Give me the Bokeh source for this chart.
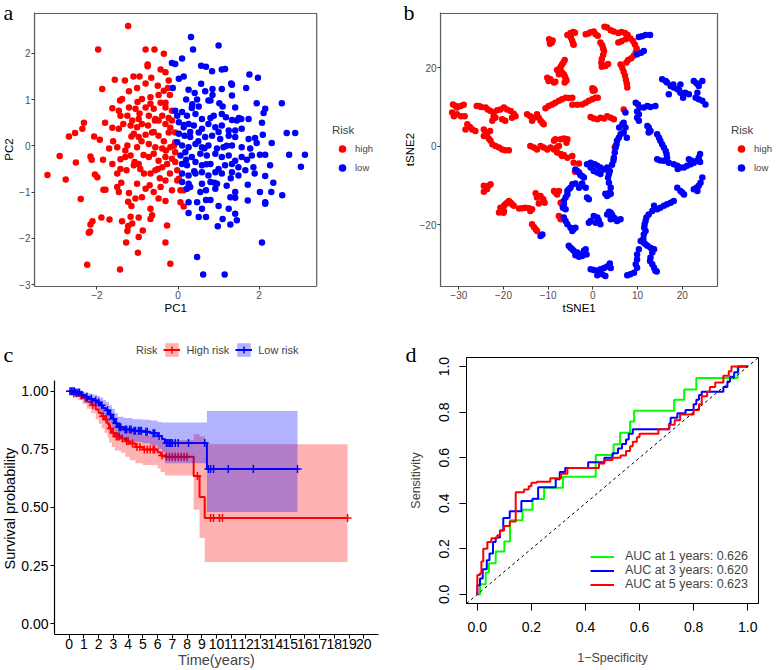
import numpy as np
from bokeh.plotting import figure
from bokeh.models import (Range1d, FixedTicker, Legend, LegendItem, Slope, Title,
                          NumeralTickFormatter, BoxAnnotation)
from bokeh.layouts import row, column
from bokeh.embed import file_html
from bokeh.resources import INLINE

FONT = "Liberation Sans"
SERIF = "Liberation Serif"
RED = "#FF0000"
BLUE = "#0000FF"
GREEN = "#00FF00"
GRAY = "#5E5E5E"

# ---------------- data: PCA ----------------
pca_high = [(-1.23,2.59),(-1.97,2.08),(-0.80,2.08),(-0.58,2.08),(-0.35,1.99),(-0.75,1.76),(-0.75,1.72),(-1.56,1.43),(-1.31,1.41),(-1.87,1.23),(-0.95,1.50),(-0.66,1.47),(-0.43,1.65),(-0.31,1.59),(-0.23,1.41),(-0.25,1.25),(-0.80,1.35),(-1.21,1.18),(-1.01,1.25),(-0.35,1.19),(-1.38,1.01),(-1.43,0.98),(-0.89,1.01),(-0.68,1.05),(-0.48,1.10),(-0.43,0.93),(-0.31,0.93),(-1.62,0.81),(-1.46,0.76),(-1.21,0.83),(-1.05,0.80),(-0.80,0.83),(-0.68,0.91),(-0.31,0.83),(-0.15,0.76),(-1.42,0.65),(-1.25,0.65),(-1.13,0.55),(-0.97,0.58),(-0.72,0.65),(-0.56,0.58),(-0.39,0.65),(-0.23,0.60),(-2.32,0.50),(-1.62,0.39),(-1.46,0.37),(-1.35,0.47),(-1.17,0.44),(-1.01,0.40),(-0.89,0.47),(-0.74,0.44),(-0.57,0.55),(-0.48,0.55),(-0.31,0.47),(-0.19,0.39),(-2.36,0.37),(-2.54,0.28),(-2.69,0.20),(-2.07,0.20),(-1.93,0.13),(-1.09,0.26),(-0.97,0.19),(-0.80,0.24),(-0.64,0.29),(-0.48,0.22),(-0.23,0.29),(-0.07,0.29),(-0.07,0.08),(-1.50,-0.03),(-1.25,0.01),(-1.01,-0.03),(-0.72,0.04),(-0.56,-0.03),(-0.39,-0.06),(-0.19,-0.03),(-0.07,-0.14),(-2.92,-0.22),(-2.16,-0.23),(-2.13,-0.30),(-2.52,-0.36),(-1.70,-0.06),(-1.62,-0.39),(-1.42,-0.29),(-1.30,-0.24),(-1.17,-0.21),(-1.07,-0.35),(-0.97,-0.39),(-0.72,-0.24),(-0.60,-0.17),(-0.48,-0.32),(-0.31,-0.24),(-0.15,-0.28),(-0.07,-0.35),(-3.22,-0.63),(-2.77,-0.73),(-2.05,-0.62),(-1.99,-0.68),(-1.50,-0.60),(-1.42,-0.50),(-1.27,-0.53),(-1.09,-0.42),(-0.93,-0.50),(-0.84,-0.60),(-0.68,-0.60),(-0.56,-0.53),(-0.39,-0.46),(-0.27,-0.39),(-0.02,-0.53),(-0.02,-0.75),(0.02,-0.71),(-1.84,-0.95),(-1.79,-0.95),(-1.50,-0.89),(-1.46,-1.00),(-1.21,-1.02),(-1.01,-0.82),(-0.80,-0.93),(-0.60,-1.00),(-0.43,-0.89),(-0.31,-0.75),(-0.15,-0.96),(0.06,-0.96),(0.14,-0.96),(-2.40,-1.15),(-1.23,-1.21),(-1.05,-1.14),(-0.89,-1.11),(-0.68,-1.36),(-0.48,-1.14),(-0.31,-1.19),(0.06,-1.22),(0.14,-1.31),(-1.89,-1.55),(-1.69,-1.59),(-1.17,-1.53),(-0.97,-1.55),(-0.68,-1.58),(-2.11,-1.63),(-2.16,-1.70),(-1.38,-1.63),(-1.23,-1.73),(-1.13,-1.68),(-0.64,-1.50),(-0.27,-1.72),(-2.17,-1.85),(-2.20,-1.88),(-1.25,-1.84),(-0.87,-1.83),(-0.97,-1.97),(-1.28,-2.09),(-0.31,-2.09),(-0.99,-2.31),(-2.24,-2.57),(-1.43,-2.67),(-0.19,-2.55),
            (-0.60,0.30),(-0.90,0.10),(-0.35,0.10),(-1.15,0.20),(-0.50,-0.50),(-0.85,-0.20),(-1.30,-0.10),(-0.20,-0.60),(-0.60,0.80),(-1.00,0.95),(-0.15,0.55),(-1.60,0.10),(-1.85,-0.30),(-1.40,-0.80),(-0.45,-0.70),(-0.10,0.00),(-0.70,-0.85),(-1.15,-1.30),(-0.50,1.30),(-1.10,1.50),(-0.20,1.10),(-1.80,0.50),(-0.30,-0.10),(-0.95,0.70)]
pca_low = [(0.32,2.35),(0.37,2.08),(1.00,2.17),(0.10,1.89),(-0.15,1.79),(-0.07,1.77),(0.57,1.73),(0.69,1.71),(0.84,1.61),(1.08,1.65),(1.16,1.66),(1.76,1.54),(1.97,1.47),(0.02,1.45),(0.14,1.50),(0.57,1.34),(0.67,1.18),(0.85,1.23),(1.08,1.23),(1.31,1.35),(1.33,1.32),(1.68,1.25),(-0.13,1.25),(0.26,1.21),(0.41,1.14),(0.47,1.00),(0.75,0.98),(0.80,0.98),(0.51,0.85),(0.34,0.82),(1.33,1.09),(1.02,0.92),(1.41,0.83),(1.94,0.92),(2.56,0.92),(2.15,0.80),(2.11,0.71),(-0.07,0.76),(0.10,0.73),(-0.02,0.65),(0.22,0.65),(0.43,0.69),(0.59,0.58),(0.88,0.65),(1.08,0.69),(1.18,0.62),(1.33,0.56),(1.45,0.55),(1.56,0.58),(1.74,0.58),(0.02,0.51),(0.14,0.40),(0.26,0.47),(0.39,0.44),(0.59,0.37),(0.75,0.47),(0.92,0.40),(1.08,0.44),(1.25,0.33),(1.41,0.33),(1.57,0.37),(2.07,0.50),(2.68,0.28),(2.89,0.28),(0.02,0.26),(0.16,0.22),(0.30,0.19),(0.51,0.29),(0.67,0.19),(0.84,0.22),(1.04,0.15),(1.25,0.22),(1.41,0.19),(1.74,0.15),(1.90,0.17),(2.09,0.24),(2.31,0.06),(-0.02,0.08),(0.10,0.01),(0.26,-0.03),(0.43,0.04),(0.59,-0.03),(0.75,0.01),(0.96,-0.06),(1.12,-0.03),(1.33,0.01),(1.57,-0.03),(1.78,-0.06),(1.94,0.06),(0.06,-0.21),(0.18,-0.14),(0.34,-0.24),(0.55,-0.17),(0.71,-0.21),(0.92,-0.17),(1.08,-0.24),(1.25,-0.21),(1.41,-0.32),(1.57,-0.24),(1.82,-0.21),(2.02,-0.19),(2.15,-0.19),(2.74,-0.19),(3.13,-0.19),(0.10,-0.39),(0.22,-0.42),(0.43,-0.35),(0.59,-0.42),(0.80,-0.39),(1.00,-0.50),(1.16,-0.42),(1.33,-0.39),(1.49,-0.46),(1.66,-0.53),(1.86,-0.46),(2.27,-0.42),(3.03,-0.45),(0.10,-0.60),(0.26,-0.64),(0.43,-0.60),(0.59,-0.57),(0.75,-0.64),(0.92,-0.57),(1.08,-0.60),(1.33,-0.57),(1.49,-0.64),(1.89,-0.60),(2.15,-0.65),(0.10,-0.78),(0.26,-0.82),(0.59,-0.82),(0.80,-0.78),(0.96,-0.82),(1.20,-0.86),(1.72,-0.84),(2.35,-0.80),(0.22,-0.93),(0.30,-0.89),(0.69,-0.96),(0.92,-0.93),(1.41,-1.00),(2.02,-1.00),(2.30,-1.00),(2.57,-1.07),(0.26,-1.22),(0.47,-1.22),(0.69,-1.17),(0.80,-1.17),(1.29,-1.11),(1.41,-1.12),(1.72,-1.18),(2.15,-1.22),(0.26,-1.45),(0.59,-1.36),(1.25,-1.36),(1.41,-1.47),(2.15,-1.25),(0.51,-1.54),(0.69,-1.54),(1.10,-1.58),(1.45,-1.61),(1.29,-1.70),(0.98,-1.74),(2.07,-2.09),(0.47,-2.40),(0.62,-2.78),(1.15,-2.78),
           (0.30,0.30),(0.50,0.10),(0.80,0.60),(1.00,0.30),(0.70,-0.40),(0.40,-0.55),(1.20,0.00),(0.20,-0.30),(0.90,-0.80),(1.50,0.60),(0.35,0.90),(0.65,-0.05),(1.30,-0.70),(0.15,0.45),(1.10,0.85),(0.55,-1.00),(0.85,1.10),(0.20,1.00),(1.70,-0.30),(1.00,-1.30)]

# ---------------- data: tSNE ----------------
tsne_high = [(-9.8,27.3),(-9.5,26.9),(-9.2,26.5),(-9.6,26.2),(-9.0,27.0),
             (-5.7,28.4),(-5.0,28.9),(-4.4,29.2),(-4.0,29.0),(-4.9,27.7),(-4.6,26.9),(-4.4,26.2),(-4.3,25.9),
             (-1.6,28.6),(-1.0,28.8),(-0.5,29.1),(0.2,29.3),(0.6,28.6),(1.1,28.2),
             (2.6,30.5),(3.2,30.3),(4.0,29.6),(4.7,29.3),(5.7,28.9),(6.4,29.2),(7.2,28.9),(7.8,28.4),
             (1.7,26.5),(2.1,25.8),(2.3,25.0),(2.5,24.3),(2.3,23.3),(2.0,22.3),(1.9,21.3),(2.0,20.3),(2.8,20.5),(3.4,21.0),
             (5.7,26.5),(6.4,26.8),(7.3,27.3),(8.4,27.5),(9.0,26.9),(9.4,26.0),(9.8,25.0),(9.6,24.0),(9.2,23.2),(8.6,22.5),(7.9,22.0),(7.5,21.4),
             (6.2,20.9),(6.6,20.0),(6.9,19.0),(7.2,18.0),(7.4,17.0),(7.6,16.0),(7.7,15.0),
             (-10.2,17.5),(-9.8,16.9),(-9.5,17.1),(-9.9,16.7),(-8.7,16.3),(-8.4,16.5),
             (-6.3,22.0),(-6.6,21.4),(-6.9,20.9),(-7.2,20.3),(-7.6,19.7),(-7.2,19.2),(-6.9,18.8),(-6.5,18.4),(-6.3,17.9),(-6.1,17.3),(-5.9,16.8),(-6.3,16.3),(-7.6,18.4),(-8.0,19.5),
             (-10.6,9.7),(-9.9,10.3),(-9.1,10.7),(-8.4,11.1),(-7.6,11.6),(-6.9,12.0),(-6.1,12.4),(-5.4,12.3),(-4.6,12.4),(-4.6,10.6),(-3.5,10.6),(-2.4,10.7),(-1.6,11.1),(-0.9,11.6),(-0.1,12.0),(0.6,12.4),(1.1,12.4),(0.0,14.2),(0.2,14.6),(-0.1,14.8),(0.4,14.3),
             (-0.5,7.5),(0.2,7.1),(1.0,6.9),(1.7,7.3),(2.5,7.1),(3.2,7.7),(4.0,7.3),(4.7,6.9),(6.9,9.4),
             (-31.3,10.7),(-30.7,10.3),(-30.4,9.9),(-29.6,10.3),(-28.9,10.6),(-31.5,8.6),(-31.1,7.7),(-30.4,8.2),(-29.5,7.7),(-28.7,7.7),
             (-26.0,10.3),(-25.5,10.3),(-25.0,10.0),(-24.0,9.9),(-23.5,9.4),(-22.9,9.0),(-22.2,8.6),(-21.4,9.2),(-20.7,9.4),(-19.9,9.9),(-19.2,9.4),(-18.4,9.0),(-17.7,8.3),(-17.3,7.7),(-18.1,7.3),(-19.6,6.5),(-20.3,6.9),(-21.8,7.3),(-22.2,7.7),(-22.5,6.5),
             (-28.1,5.6),(-27.5,4.9),(-27.0,4.3),(-28.5,4.3),(-26.3,3.9),(-24.4,4.3),(-24.0,3.5),(-23.7,2.6),(-23.3,2.0),(-22.9,1.4),(-22.5,0.5),(-21.8,0.1),(-21.0,-0.3),(-20.3,-0.8),(-19.6,-1.0),(-18.8,-1.0),(-24.4,2.6),(-23.0,3.9),
             (-14.7,8.2),(-14.0,7.7),(-13.2,7.3),(-12.5,8.2),(-12.1,7.3),(-11.7,6.5),(-11.3,6.0),(-11.0,5.6),(-13.6,6.5),
             (-14.0,0.1),(-13.2,-0.3),(-12.5,-0.8),(-11.7,0.1),(-11.0,-0.3),(-10.2,-0.8),(-9.5,-0.3),(-8.7,-0.8),(-8.1,-0.3),(-7.6,0.1),(-8.7,1.4),(-8.4,1.8),(-7.2,1.8),(-6.5,2.0),(-5.7,1.8),(-5.9,0.9),(-8.0,-1.6),(-7.2,-2.0),(-6.9,-2.5),(-6.5,-2.2),(-5.7,-2.9),(-4.6,-2.5),(-4.3,-4.2),(-3.1,-4.4),(-4.0,-6.5),(5.1,0.1),(4.9,-0.3),
             (-24.4,-10.1),(-24.0,-10.6),(-23.7,-11.0),(-24.4,-11.6),(-23.3,-10.1),(-22.9,-9.7),
             (-20.7,-15.7),(-20.3,-16.1),(-19.9,-16.5),(-19.6,-14.8),(-19.2,-14.4),(-18.8,-14.0),(-18.4,-14.4),(-18.1,-14.8),(-17.7,-15.2),(-19.9,-15.2),(-21.0,-16.9),(-20.0,-17.0),
             (-15.8,-15.8),(-15.1,-15.7),(-14.3,-15.8),(-13.6,-16.1),(-14.0,-16.5),(-16.5,-15.9),
             (-12.5,-13.1),(-11.7,-12.7),(-11.1,-13.5),(-10.8,-14.4),(-12.1,-14.6),(-12.8,-12.0),
             (-13.6,-19.9),(-13.2,-20.6),(-12.8,-21.2),(-12.5,-21.6),
             (-8.7,-11.4),(-8.4,-11.8),(-8.0,-12.3),(-7.6,-11.4),(-7.2,-14.4),(-6.9,-14.8),(-6.5,-14.6),(-7.6,-17.8),(-7.2,-18.6)]
tsne_low = [(10.3,27.9),(11.0,28.1),(11.8,28.4),(12.8,28.4),(11.4,24.3),(10.8,23.9),(9.9,23.5),
            (15.5,17.1),(16.3,16.7),(16.6,16.3),(17.4,15.4),(18.1,15.0),(18.9,14.6),(19.6,13.7),(20.2,12.4),(19.3,14.3),(18.0,15.8),(20.7,13.7),(21.5,13.3),(22.6,16.7),(23.2,16.1),(23.7,15.4),(24.5,16.7),(23.4,13.7),(23.0,12.4),(23.7,12.0),(24.5,11.6),(25.2,10.7),(17.0,13.3),(19.6,15.8),
            (9.6,11.1),(10.1,10.7),(10.5,9.9),(11.4,9.9),(12.2,10.3),(12.9,10.0),(14.0,10.3),(9.9,8.9),(10.3,8.2),(9.9,7.3),(10.3,6.5),(12.2,5.2),(12.5,4.8),(12.9,3.9),(12.5,3.5),
            (7.3,8.6),(6.9,6.0),(6.6,5.6),(7.3,4.8),(6.9,3.5),(6.2,3.1),(5.8,2.2),(5.4,1.4),(5.3,0.5),(5.1,-0.3),(4.9,-1.6),(4.7,-2.9),(4.6,-3.7),(4.3,-4.7),(7.6,2.2),(5.9,4.8),
            (14.4,3.1),(14.8,2.2),(15.1,1.4),(15.5,0.5),(15.9,-0.3),(16.3,-1.2),(16.5,-2.0),(16.6,-2.9),(14.4,-3.3),(15.1,-3.6),(15.9,-3.7),(17.0,-4.2),(18.1,-4.6),(18.9,-5.0),(19.6,-5.4),(20.4,-5.4),(21.1,-5.0),(21.9,-4.6),(22.6,-4.2),(23.4,-3.7),(23.7,-2.9),(24.0,-2.0),(22.2,-3.7),(21.5,-3.3),(19.0,-5.8),(24.0,-4.0),
            (24.5,-8.0),(24.1,-9.3),(23.7,-10.1),(23.2,-10.6),(22.6,-11.0),(23.4,-11.4),(18.9,-10.6),(19.6,-11.4),(20.0,-11.8),(20.4,-12.3),(18.1,-14.0),(17.4,-14.4),(16.6,-14.8),(15.9,-15.2),(15.1,-15.7),(14.4,-16.1),(13.7,-15.2),(13.3,-16.5),(12.5,-17.4),(12.0,-18.2),(11.8,-19.1),(11.6,-19.9),(11.5,-20.8),(11.8,-21.6),(11.4,-22.5),(11.3,-23.7),(11.4,-24.6),(11.8,-25.0),(12.2,-25.4),(12.9,-25.9),(13.7,-26.3),(13.3,-27.1),(12.9,-28.4),(12.8,-29.3),(13.3,-30.1),(13.7,-31.0),(14.0,-31.8),(10.7,-24.2),(10.3,-26.3),(9.9,-27.6),(9.9,-28.9),(9.6,-30.1),(9.9,-31.0),(9.2,-32.3),(8.4,-32.7),(7.7,-32.9),(14.3,-32.0),
            (-1.3,-4.6),(-0.5,-4.2),(0.4,-4.6),(1.0,-5.0),(1.7,-5.4),(-0.5,-5.4),(0.2,-6.3),(1.0,-6.7),(1.7,-7.1),(2.5,-5.9),(3.2,-5.4),(3.8,-6.3),(3.6,-7.1),(3.4,-8.0),(3.6,-9.3),(4.0,-10.6),(3.8,-11.8),(3.6,-12.3),(3.2,-12.7),(2.8,-12.1),(4.0,-12.1),
            (-3.9,-5.9),(-3.5,-6.3),(-3.1,-6.7),(-2.8,-7.3),(-2.4,-7.6),(-2.0,-8.0),(-2.4,-9.5),(-2.6,-10.1),(-3.1,-10.6),(-3.9,-9.5),(-4.6,-9.7),(-5.0,-10.6),(-5.4,-11.0),(-5.7,-11.4),(-1.6,-10.6),(-1.3,-13.1),(-0.9,-13.5),
            (-5.7,-12.3),(-6.1,-13.1),(-6.5,-14.0),(-6.5,-14.8),(-6.7,-15.7),(-6.1,-16.1),
            (-6.5,-18.2),(-6.1,-19.1),(-5.7,-19.9),(-5.0,-20.8),(-4.6,-21.6),(-4.3,-21.2),(-3.9,-20.8),
            (-0.9,-19.5),(-0.5,-19.1),(0.2,-17.8),(1.0,-18.2),(1.3,-18.9),(0.6,-19.5),(1.7,-19.9),(3.2,-17.4),(4.0,-17.0),(4.3,-17.5),(4.7,-18.2),(5.1,-18.6),(5.4,-19.1),(6.2,-18.6),(4.0,-18.6),(3.6,-16.7),
            (-11.3,-22.5),(-11.7,-22.9),
            (-5.4,-25.4),(-5.0,-25.9),(-4.6,-26.3),(-4.3,-26.7),(-3.5,-27.1),(-2.8,-27.6),(-2.0,-26.7),(-1.6,-26.3),(-2.4,-28.0),(-3.1,-28.2),(-3.9,-27.8),(-1.4,-27.6),
            (-0.5,-31.4),(0.2,-31.6),(1.0,-31.8),(1.7,-31.4),(2.5,-31.1),(3.2,-30.7),(3.8,-29.9),(4.0,-31.1),(2.1,-32.7),(2.8,-33.1),(1.0,-32.9)]

# ---------------- data: Kaplan-Meier ----------------
km_high_time = [0, 0.3, 0.6, 0.9, 1.2, 1.5, 1.8, 2.0, 2.2, 2.4, 2.6, 2.7, 2.9, 3.1, 3.5, 3.8, 4.1, 4.5, 5.0, 6.0, 6.2, 6.5, 8.45, 8.85, 9.2]
km_high_surv = [1.0, 0.99, 0.982, 0.97, 0.955, 0.94, 0.922, 0.907, 0.892, 0.878, 0.86, 0.84, 0.82, 0.805, 0.797, 0.785, 0.775, 0.76, 0.749, 0.738, 0.724, 0.718, 0.635, 0.545, 0.455]
km_high_upper = [1.0, 1.0, 0.998, 0.99, 0.98, 0.968, 0.955, 0.942, 0.93, 0.918, 0.902, 0.885, 0.868, 0.855, 0.848, 0.838, 0.83, 0.818, 0.81, 0.8, 0.792, 0.79, 0.815, 0.805, 0.772]
km_high_lower = [1.0, 0.975, 0.962, 0.945, 0.925, 0.905, 0.88, 0.86, 0.84, 0.822, 0.8, 0.78, 0.76, 0.745, 0.735, 0.718, 0.703, 0.69, 0.683, 0.668, 0.652, 0.638, 0.49, 0.368, 0.265]
km_high_end = 18.9
km_high_censor = [0.3, 0.5, 0.8, 1.1, 1.6, 2.3, 2.5, 2.8, 3.0, 3.2, 3.3, 3.4, 3.6, 3.9, 4.0, 4.3, 4.6, 4.8, 5.1, 5.3, 5.5, 5.7, 5.8, 6.3, 6.6, 6.8, 7.0, 7.2, 7.4, 7.6, 7.8, 8.0, 8.7, 9.6, 9.8, 10.2, 10.4, 18.9]

km_low_time = [0, 0.4, 0.8, 1.0, 1.3, 1.6, 1.9, 2.1, 2.3, 2.5, 2.7, 2.9, 3.1, 3.3, 3.7, 4.3, 5.0, 5.5, 6.0, 6.3, 6.5, 9.35]
km_low_surv = [1.0, 0.995, 0.985, 0.976, 0.968, 0.96, 0.952, 0.94, 0.928, 0.918, 0.9, 0.882, 0.862, 0.845, 0.836, 0.83, 0.826, 0.819, 0.807, 0.795, 0.777, 0.665]
km_low_upper = [1.0, 1.0, 1.0, 0.995, 0.99, 0.985, 0.98, 0.972, 0.962, 0.954, 0.94, 0.925, 0.905, 0.89, 0.885, 0.88, 0.877, 0.874, 0.868, 0.866, 0.866, 0.915]
km_low_lower = [1.0, 0.985, 0.97, 0.955, 0.945, 0.935, 0.922, 0.908, 0.893, 0.882, 0.86, 0.84, 0.818, 0.8, 0.79, 0.782, 0.776, 0.768, 0.752, 0.738, 0.69, 0.48]
km_low_end = 15.5
km_low_censor = [0.05, 0.15, 0.25, 0.35, 0.45, 0.6, 0.7, 0.85, 1.2, 1.5, 1.8, 2.0, 2.2, 2.6, 2.8, 3.0, 3.2, 3.4, 3.5, 3.8, 3.9, 4.1, 4.2, 4.4, 4.5, 4.7, 4.8, 4.9, 5.2, 5.3, 5.7, 5.8, 6.1, 6.6, 6.7, 6.8, 6.9, 7.0, 7.2, 7.4, 8.1, 9.2, 9.45, 9.6, 9.8, 10.8, 12.5, 15.5]

# ---------------- data: ROC ----------------
roc1_fpr = [0.0, 0.01, 0.01, 0.031, 0.031, 0.043, 0.043, 0.068, 0.068, 0.10, 0.10, 0.121, 0.121, 0.167, 0.167, 0.204, 0.204, 0.247, 0.247, 0.317, 0.317, 0.438, 0.438, 0.504, 0.504, 0.528, 0.528, 0.565, 0.565, 0.58, 0.58, 0.728, 0.728, 0.765, 0.765, 0.81, 0.81, 0.963, 0.963, 1.0]
roc1_tpr = [0.0, 0.0, 0.044, 0.044, 0.096, 0.096, 0.137, 0.137, 0.188, 0.188, 0.232, 0.232, 0.325, 0.325, 0.372, 0.372, 0.419, 0.419, 0.468, 0.468, 0.516, 0.516, 0.612, 0.612, 0.659, 0.659, 0.71, 0.71, 0.759, 0.759, 0.806, 0.806, 0.854, 0.854, 0.90, 0.90, 0.95, 0.95, 1.0, 1.0]
roc3_pts = [(0,0),(0,0.04),(0.01,0.04),(0.01,0.07),(0.02,0.07),(0.02,0.11),(0.035,0.11),(0.035,0.15),(0.045,0.15),(0.045,0.18),(0.058,0.18),(0.058,0.23),(0.068,0.23),(0.068,0.25),(0.084,0.25),(0.084,0.28),(0.096,0.28),(0.096,0.335),(0.12,0.335),(0.12,0.365),(0.163,0.365),(0.163,0.41),(0.204,0.41),(0.204,0.42),(0.225,0.42),(0.225,0.47),(0.29,0.47),(0.29,0.505),(0.305,0.505),(0.305,0.537),(0.325,0.537),(0.325,0.555),(0.41,0.555),(0.41,0.58),(0.47,0.58),(0.47,0.60),(0.50,0.60),(0.50,0.62),(0.52,0.62),(0.52,0.64),(0.535,0.64),(0.535,0.66),(0.55,0.66),(0.55,0.68),(0.56,0.68),(0.56,0.705),(0.575,0.705),(0.575,0.725),(0.71,0.725),(0.71,0.75),(0.715,0.75),(0.715,0.775),(0.74,0.775),(0.74,0.795),(0.77,0.795),(0.77,0.81),(0.80,0.81),(0.80,0.835),(0.81,0.835),(0.81,0.855),(0.82,0.855),(0.82,0.875),(0.83,0.875),(0.83,0.89),(0.91,0.89),(0.91,0.91),(0.925,0.91),(0.925,0.935),(0.935,0.935),(0.935,0.955),(0.95,0.955),(0.95,0.975),(0.965,0.975),(0.965,1.0),(1.0,1.0)]
roc5_pts = [(0,0),(0,0.085),(0.01,0.085),(0.01,0.093),(0.015,0.093),(0.015,0.144),(0.022,0.144),(0.022,0.2),(0.037,0.2),(0.037,0.23),(0.052,0.23),(0.052,0.247),(0.074,0.247),(0.074,0.26),(0.084,0.26),(0.084,0.28),(0.099,0.28),(0.099,0.30),(0.12,0.30),(0.12,0.32),(0.142,0.32),(0.142,0.448),(0.173,0.448),(0.173,0.46),(0.19,0.46),(0.19,0.475),(0.2,0.475),(0.2,0.49),(0.22,0.49),(0.22,0.495),(0.27,0.495),(0.27,0.51),(0.31,0.51),(0.31,0.53),(0.333,0.53),(0.333,0.555),(0.45,0.555),(0.45,0.575),(0.47,0.575),(0.47,0.59),(0.50,0.59),(0.50,0.60),(0.53,0.60),(0.53,0.61),(0.55,0.61),(0.55,0.63),(0.565,0.63),(0.565,0.65),(0.575,0.65),(0.575,0.67),(0.59,0.67),(0.59,0.69),(0.60,0.69),(0.60,0.705),(0.67,0.705),(0.67,0.725),(0.71,0.725),(0.71,0.745),(0.73,0.745),(0.73,0.765),(0.75,0.765),(0.75,0.79),(0.80,0.79),(0.80,0.81),(0.82,0.81),(0.82,0.835),(0.83,0.835),(0.83,0.87),(0.85,0.87),(0.85,0.89),(0.86,0.89),(0.86,0.91),(0.88,0.91),(0.88,0.93),(0.91,0.93),(0.91,0.96),(0.93,0.96),(0.93,0.98),(0.94,0.98),(0.94,1.0),(1.0,1.0)]
roc_labels = ["AUC at 1 years: 0.626", "AUC at 3 years: 0.620", "AUC at 5 years: 0.623"]

pca_ticks_x = [-2, 0, 2]
pca_ticks_y = [-3, -2, -1, 0, 1, 2]
tsne_ticks_x = [-30, -20, -10, 0, 10, 20]
tsne_ticks_y = [-20, 0, 20]


def minus_labels(ticks):
    return {t: (("\u2212" + str(abs(t))) if t < 0 else str(t)) for t in ticks}


def panel_tag(p, text, offset, standoff):
    p.add_layout(Title(text=text, align="left", offset=offset, standoff=standoff,
                       vertical_align="bottom",
                       text_font=SERIF, text_font_size="22px", text_font_style="normal",
                       text_color="black"), "above")


def scatter_panel(high, low, box_x, box_y, x_end, y_end, xt, yt, xlabel, ylabel,
                  left, leg_x, tag, tag_off, xlab_off):
    # the frame runs on to the right edge so that the legend can sit in it;
    # the visible panel box is drawn around the data ranges only
    p = figure(width=390, height=330, x_range=Range1d(box_x[0], x_end),
               y_range=Range1d(box_y[0], y_end),
               output_backend="svg", toolbar_location=None,
               min_border_left=left, min_border_right=0,
               min_border_top=12, min_border_bottom=44, y_axis_label=ylabel)
    p.outline_line_color = None
    p.xgrid.visible = False
    p.ygrid.visible = False
    p.xaxis[0].ticker = FixedTicker(ticks=xt)
    p.yaxis[0].ticker = FixedTicker(ticks=yt)
    p.xaxis[0].major_label_overrides = minus_labels(xt)
    p.yaxis[0].major_label_overrides = minus_labels(yt)
    p.xaxis[0].bounds = box_x
    for ax in (p.xaxis[0], p.yaxis[0]):
        ax.axis_line_color = GRAY
        ax.axis_line_width = 1.2
        ax.major_tick_line_color = "#333333"
        ax.major_tick_in = 0
        ax.major_tick_out = 3
        ax.minor_tick_line_color = None
        ax.major_label_text_font = FONT
        ax.major_label_text_font_size = "10px"
        ax.major_label_text_color = "#4D4D4D"
        ax.axis_label_text_font = FONT
        ax.axis_label_text_font_size = "11.5px"
        ax.axis_label_text_font_style = "normal"
        ax.axis_label_text_color = "black"
        ax.major_label_standoff = 1
        ax.axis_label_standoff = 1
    p.add_layout(BoxAnnotation(left=box_x[0], right=box_x[1], bottom=box_y[0], top=box_y[1],
                               fill_alpha=0, fill_color=None, line_color=GRAY,
                               line_alpha=1, line_width=1.2))
    hx, hy = zip(*high)
    lx, ly = zip(*low)
    r_hi = p.scatter(list(hx), list(hy), size=6.5, fill_color=RED, line_color=None)
    r_lo = p.scatter(list(lx), list(ly), size=6.5, fill_color=BLUE, line_color=None)
    leg = Legend(items=[LegendItem(label="high", renderers=[r_hi]),
                        LegendItem(label="low", renderers=[r_lo])],
                 location=(leg_x, 109), title="Risk",
                 title_text_font=FONT, title_text_font_size="11.5px",
                 title_text_font_style="normal", title_standoff=3,
                 label_text_font=FONT, label_text_font_size="9.5px",
                 glyph_width=20, glyph_height=19, label_height=19,
                 label_standoff=3, padding=4, margin=0, spacing=0,
                 border_line_color=None, background_fill_alpha=0)
    p.add_layout(leg)
    p.add_layout(Title(text=xlabel, align="left", offset=xlab_off, standoff=0,
                       vertical_align="top", text_font=FONT, text_font_size="11.5px",
                       text_font_style="normal", text_color="black"), "below")
    panel_tag(p, tag, tag_off, -24)
    return p


pa = scatter_panel(pca_high, pca_low, (-3.54, 3.42), (-3.04, 2.86), 5.24, 2.882,
                   pca_ticks_x, pca_ticks_y, "PC1", "PC2", 33, 298, "a", -31, 130)
pb = scatter_panel(tsne_high, tsne_low, (-34.1, 27.9), (-35.8, 33.9), 42.0, 34.16,
                   tsne_ticks_x, tsne_ticks_y, "tSNE1", "tSNE2", 50, 291, "b", -37, 122)


# ---------------- panel c ----------------
def step_xy(t, v, end):
    xs, ys = [], []
    for i in range(len(t)):
        x0 = t[i]
        x1 = t[i + 1] if i + 1 < len(t) else end
        xs += [x0, x1]
        ys += [v[i], v[i]]
    return xs, ys


# the frame reaches up above the y axis so that the legend sits inside it;
# the visible axis line is limited to the data span with "bounds"
pc = figure(width=390, height=340, x_range=Range1d(-1, 21), y_range=Range1d(-0.047, 1.210),
            output_backend="svg", toolbar_location=None,
            min_border_left=53, min_border_right=12, min_border_top=12, min_border_bottom=35,
            x_axis_label="Time(years)")
pc.outline_line_color = None
pc.xgrid.visible = False
pc.ygrid.visible = False
pc.xaxis[0].ticker = FixedTicker(ticks=list(range(0, 21)))
pc.yaxis[0].ticker = FixedTicker(ticks=[0, 0.25, 0.5, 0.75, 1.0])
pc.yaxis[0].formatter = NumeralTickFormatter(format="0.00")
pc.yaxis[0].bounds = (-0.047, 1.047)
for ax in (pc.xaxis[0], pc.yaxis[0]):
    ax.axis_line_color = "black"
    ax.axis_line_width = 1.2
    ax.major_tick_line_color = "black"
    ax.major_tick_in = 0
    ax.major_tick_out = 4
    ax.minor_tick_line_color = None
    ax.major_label_text_font = FONT
    ax.major_label_text_font_size = "14px"
    ax.major_label_text_color = "black"
    ax.axis_label_text_font = FONT
    ax.axis_label_text_font_size = "14.5px"
    ax.axis_label_text_font_style = "normal"
pc.xaxis[0].major_label_standoff = 0
pc.xaxis[0].axis_label_standoff = 0
pc.yaxis[0].major_label_standoff = 2
pc.add_layout(Title(text="Survival probability", align="left", offset=65, standoff=0,
                    vertical_align="middle", text_font=FONT, text_font_size="14.5px",
                    text_font_style="normal", text_color="black"), "left")

groups = [
    (km_high_time, km_high_surv, km_high_upper, km_high_lower, km_high_end, km_high_censor, RED, "High risk"),
    (km_low_time, km_low_surv, km_low_upper, km_low_lower, km_low_end, km_low_censor, BLUE, "Low risk"),
]
dummy = pc.scatter(x=[], y=[], size=1, fill_alpha=0, line_alpha=0)
items = [LegendItem(label="Risk", renderers=[dummy])]
for t, s, up, lo, end, cens, col, lab in groups:
    bx, by_up = step_xy(t, up, end)
    _, by_lo = step_xy(t, lo, end)
    band = pc.varea(x=bx, y1=by_lo, y2=by_up, fill_color=col, fill_alpha=0.3)
    lx, ly = step_xy(t, s, end)
    line = pc.line(lx, ly, line_color=col, line_width=2)
    ta = np.array(t)
    idx = np.searchsorted(ta, np.array(cens), side="right") - 1
    cy = [s[i] for i in idx]
    cr = pc.scatter(cens, cy, marker="cross", size=8, line_color=col, line_width=1.5)
    items.append(LegendItem(label=lab, renderers=[band, line, cr]))

leg_c = Legend(items=items, orientation="horizontal", location=(59, 276),
               padding=0, margin=0, spacing=6, glyph_width=17, glyph_height=17,
               label_height=17, label_standoff=6, label_text_font=FONT,
               label_text_font_size="11px", border_line_color=None, background_fill_alpha=0)
pc.add_layout(leg_c)
panel_tag(pc, "\nc", -51, -48)

# ---------------- panel d ----------------
pd_ = figure(width=390, height=340, x_range=Range1d(-0.04, 1.04), y_range=Range1d(-0.04, 1.04),
             output_backend="svg", toolbar_location=None,
             min_border_left=76, min_border_right=22, min_border_top=27, min_border_bottom=67,
             x_axis_label="1\u2212Specificity", y_axis_label="Sensitivity")
pd_.outline_line_color = "black"
pd_.outline_line_width = 1
pd_.xgrid.visible = False
pd_.ygrid.visible = False
for ax in (pd_.xaxis[0], pd_.yaxis[0]):
    ax.ticker = FixedTicker(ticks=[0, 0.2, 0.4, 0.6, 0.8, 1.0])
    ax.formatter = NumeralTickFormatter(format="0.0")
    ax.axis_line_color = "black"
    ax.major_tick_line_color = "black"
    ax.major_tick_in = 0
    ax.major_tick_out = 7
    ax.minor_tick_line_color = None
    ax.major_label_text_font = FONT
    ax.major_label_text_font_size = "14px"
    ax.major_label_text_color = "black"
    ax.axis_label_text_font = FONT
    ax.axis_label_text_font_size = "12.5px"
    ax.axis_label_text_font_style = "normal"
pd_.yaxis[0].major_label_orientation = "vertical"
pd_.xaxis[0].major_label_standoff = 11
pd_.xaxis[0].axis_label_standoff = 16
pd_.yaxis[0].major_label_standoff = 10
pd_.yaxis[0].axis_label_standoff = 14

pd_.add_layout(Slope(gradient=1, y_intercept=0, line_color="black", line_width=1, line_dash="3 3"))
r1 = pd_.line(roc1_fpr, roc1_tpr, line_color=GREEN, line_width=2)
x3, y3 = zip(*roc3_pts)
r3 = pd_.line(list(x3), list(y3), line_color=BLUE, line_width=2)
x5, y5 = zip(*roc5_pts)
r5 = pd_.line(list(x5), list(y5), line_color=RED, line_width=2)
leg_d = Legend(items=[LegendItem(label=roc_labels[0], renderers=[r1]),
                      LegendItem(label=roc_labels[1], renderers=[r3]),
                      LegendItem(label=roc_labels[2], renderers=[r5])],
               location=(124, 12), padding=0, margin=0, spacing=0,
               glyph_width=24, glyph_height=13, label_height=13, label_standoff=11,
               label_text_font=FONT, label_text_font_size="12.5px",
               border_line_color=None, background_fill_alpha=0)
pd_.add_layout(leg_d)
panel_tag(pd_, "d", -61, -19)

layout = column(row(column(pa), column(pb)), row(column(pc), column(pd_)))
open("out.html", "w").write(file_html(layout, INLINE))
